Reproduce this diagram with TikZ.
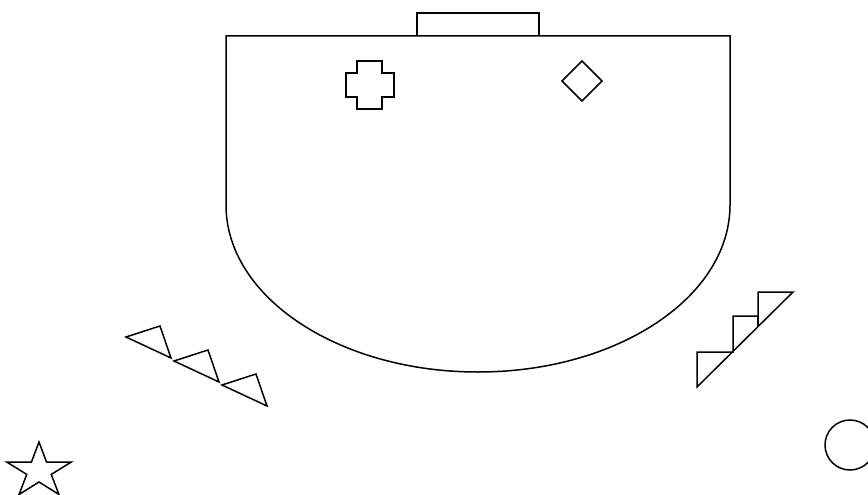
\documentclass[tikz,border=0pt]{standalone}
\usepackage{xcolor}
\usepackage{tikz}

\begin{document}
\begin{tikzpicture}[
  x=1pt,y=-1pt,
  o/.style={draw=black,line width=1.5pt,line join=miter},
  ob/.style={o,line width=2pt}
]
  \useasboundingbox (0,0) rectangle (868,495);
  % hall outline
  \draw[o] (226,205) -- (226,36) -- (730,36) -- (730,205)
    arc[start angle=0,end angle=180,x radius=252,y radius=167];
  \draw[ob] (417,36) -- (417,13) -- (539,13) -- (539,36);
  % cross and diamond
  \draw[o] (357,61) -- (382,61) -- (382,73) -- (394,73) -- (394,97) -- (382,97)
    -- (382,109) -- (357,109) -- (357,97) -- (346,97) -- (346,73) -- (357,73) -- cycle;
  \draw[o] (582,61) -- (602,81) -- (582,101) -- (562,81) -- cycle;
  % row of triangles
  \foreach \i in {0,1,2}
    {\draw[o,shift={(48*\i,24*\i)}] (126,337) -- (160,326) -- (171,358) -- cycle;}
  % stairs
  \draw[o] (697,387) -- (697,352) -- (733,352) -- (733,316) -- (758,316)
    -- (758,292) -- (793,292) -- cycle;
  \draw[o] (758,316) -- (758,326);
  % star and circle
  \draw[o,shift={(39,471)},xscale=1.17] (-90:29) -- (-54:11) -- (-18:29) -- (18:11) -- (54:29)
    -- (90:11) -- (126:29) -- (162:11) -- (198:29) -- (234:11) -- cycle;
  \draw[o] (850,445) circle[radius=25];
\end{tikzpicture}
\end{document}
